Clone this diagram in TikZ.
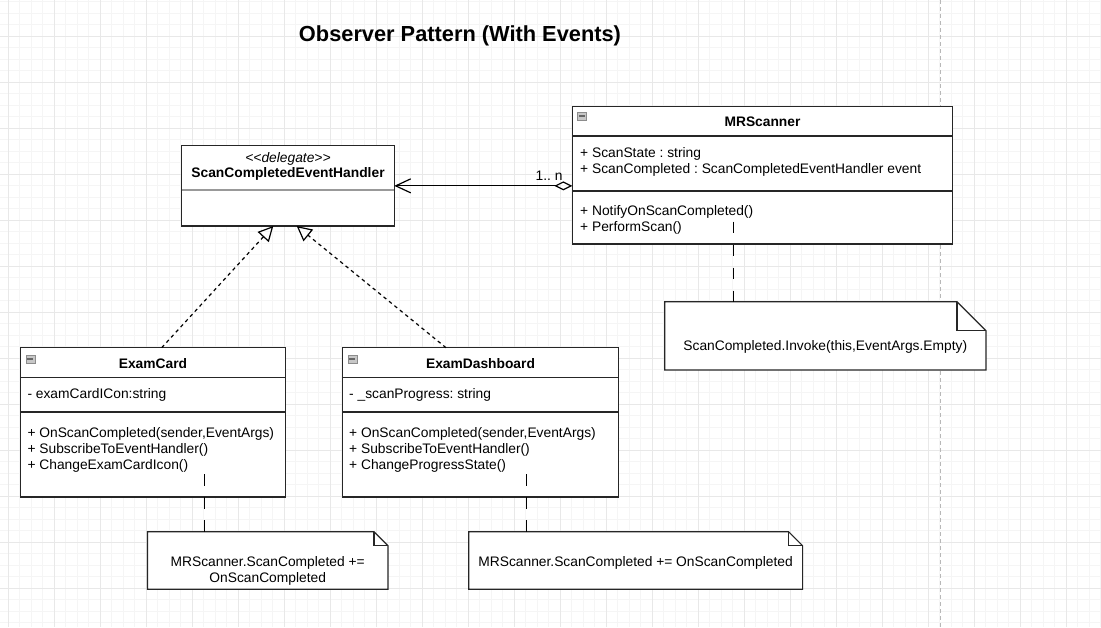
\documentclass[tikz,border=0pt]{standalone}
\usepackage{fontspec}
\setmainfont{Liberation Sans}
\usetikzlibrary{arrows.meta}
\frenchspacing

\newcommand{\drawnote}[2]{%
\draw[noteline] (#1.north west) -- ([xshift=-#2]#1.north east) -- ([yshift=-#2]#1.north east)
  -- (#1.south east) -- (#1.south west) -- cycle;
\draw[noteline, fill=none] ([xshift=-#2]#1.north east) |- ([yshift=-#2]#1.north east);}
\newcommand{\bodysize}{\fontsize{13.8}{16}\selectfont}

\tikzset{
  gridminor/.style={draw=black!4, line width=0.7pt},
  gridmajor/.style={draw=black!9, line width=0.8pt},
  pagebreak/.style={draw=black!28, line width=0.8pt, dash pattern=on 4pt off 3pt},
  classbox/.style={draw=black!85, fill=white, line width=1.2pt, inner sep=0pt, outer sep=0pt, anchor=north west},
  sepline/.style={draw=black!85, line width=1.2pt},
  classname/.style={font=\bodysize\bfseries, anchor=base, inner sep=0pt},
  member/.style={anchor=base west, inner sep=0pt},
  iconbox/.style={draw=black!45, fill=black!22, minimum width=9pt, minimum height=8pt, inner sep=0pt,
    anchor=north west, path picture={\draw[black!60, line width=1.6pt]
    ([xshift=1.5pt]path picture bounding box.west) -- ([xshift=-1.5pt]path picture bounding box.east);}},
  notebox/.style={inner sep=0pt, outer sep=0pt, anchor=north west},
  noteline/.style={draw=black!85, fill=white, line width=1.2pt, line join=miter},
  notetext/.style={anchor=base, inner sep=0pt},
  notelink/.style={draw=black, line width=1.2pt, dash pattern=on 11.5pt off 11.5pt},
  realize/.style={draw=black, line width=1.2pt, dash pattern=on 3.5pt off 3.5pt,
    -{Triangle[open, length=15pt, width=15pt]}},
  assoc/.style={draw=black, line width=1.2pt,
    {Diamond[open, length=18pt, width=9pt]}-{Straight Barb[length=15pt, width=14pt]}},
}

\begin{document}
\begin{tikzpicture}[x=1pt, y=-1pt, font=\bodysize]
\useasboundingbox (0,0) rectangle (1101,627);
\fill[white] (0,0) rectangle (1101,627);

% background grid
\foreach \k in {-1,...,95} \draw[gridminor] ({8.3+11.5*\k},0) -- ({8.3+11.5*\k},627);
\foreach \k in {0,...,54} \draw[gridminor] (0,{1.5+11.5*\k}) -- (1101,{1.5+11.5*\k});
\foreach \k in {0,...,23} \draw[gridmajor] ({8.3+46*\k},0) -- ({8.3+46*\k},627);
\foreach \k in {0,...,12} \draw[gridmajor] (0,{36+46*\k}) -- (1101,{36+46*\k});
\draw[pagebreak] (940.5,0) -- (940.5,627);

\node[font=\bfseries\fontsize{21.8}{26}\selectfont, anchor=base, inner sep=0pt] (title) at (460,41.7)
  {Observer Pattern (With Events)};

% delegate
\node[classbox, minimum width=212.6, minimum height=80.3] (handler) at (181.7,145.7) {};
\draw[sepline, draw=black!40] ([yshift=-44.3pt]handler.north west) -- ([yshift=-44.3pt]handler.north east);
\node[notetext, font=\bodysize\itshape] (stereo) at (288,162)
  {<\kern0pt<\kern0pt delegate>\kern0pt>};
\node[classname] (handlername) at (288,177.5) {ScanCompletedEventHandler};

% subject
\node[classbox, minimum width=380.4, minimum height=137.3] (mr) at (572.3,106.7) {};
\draw[sepline] ([yshift=-29.3pt]mr.north west) -- ([yshift=-29.3pt]mr.north east);
\draw[sepline] ([yshift=-84.3pt]mr.north west) -- ([yshift=-84.3pt]mr.north east);
\node[iconbox] (mricon) at (577.3,111.7) {};
\node[classname] (mrname) at (762.5,126.7) {MRScanner};
\node[member] (mra1) at (580,157.6) {+ ScanState : string};
\node[member] (mra2) at (580,173.6) {+ ScanCompleted : ScanCompletedEventHandler event};
\node[member] (mrm1) at (580,215.8) {+ NotifyOnScanCompleted()};
\node[member] (mrm2) at (580,231.8) {+ PerformScan()};

% observers
\node[classbox, minimum width=264.6, minimum height=149.3] (card) at (20.7,347.7) {};
\draw[sepline] ([yshift=-30pt]card.north west) -- ([yshift=-30pt]card.north east);
\draw[sepline] ([yshift=-64.3pt]card.north west) -- ([yshift=-64.3pt]card.north east);
\node[iconbox] (cardicon) at (25.7,355) {};
\node[classname] (cardname) at (153,368.3) {ExamCard};
\node[member] (carda1) at (27.3,398) {- examCardICon:string};
\node[member] (cardm1) at (27.3,437.3) {+ OnScanCompleted(sender,EventArgs)};
\node[member] (cardm2) at (27.3,453.3) {+ SubscribeToEventHandler()};
\node[member] (cardm3) at (27.3,469.3) {+ ChangeExamCardIcon()};

\node[classbox, minimum width=276.4, minimum height=149.3] (board) at (342.3,347.7) {};
\draw[sepline] ([yshift=-30pt]board.north west) -- ([yshift=-30pt]board.north east);
\draw[sepline] ([yshift=-64.3pt]board.north west) -- ([yshift=-64.3pt]board.north east);
\node[iconbox] (boardicon) at (347.7,355) {};
\node[classname] (boardname) at (480.5,368.3) {ExamDashboard};
\node[member] (boarda1) at (349,398) {- \_scanProgress: string};
\node[member] (boardm1) at (349,437.3) {+ OnScanCompleted(sender,EventArgs)};
\node[member] (boardm2) at (349,453.3) {+ SubscribeToEventHandler()};
\node[member] (boardm3) at (349,469.3) {+ ChangeProgressState()};

% notes
\node[notebox, minimum width=321.3, minimum height=68.3] (mrnote) at (664.7,301.7) {};
\drawnote{mrnote}{29pt}
\node[notetext] (mrnotetext) at (825.3,350.7) {ScanCompleted.Invoke(this,EventArgs.Empty)};

\node[notebox, minimum width=240.6, minimum height=57.6] (cardnote) at (147.4,531.7) {};
\drawnote{cardnote}{14pt}
\node[notetext] (cardnotetext) at (267.7,566) {MRScanner.ScanCompleted +=};
\node[notetext] (cardnotetext2) at (267.7,582) {OnScanCompleted};

\node[notebox, minimum width=333.9, minimum height=57.6] (boardnote) at (468.7,531.7) {};
\drawnote{boardnote}{14pt}
\node[notetext] (boardnotetext) at (635.6,566) {MRScanner.ScanCompleted += OnScanCompleted};

% connectors
\draw[assoc] (mr.west |- handler.east) -- (handler.east);
\node[anchor=base east, inner sep=0pt] (mult) at (562.7,180) {1.. n};

\draw[realize] ([xshift=8.7pt]card.north) -- ([xshift=-14.7pt]handler.south);
\draw[realize] ([xshift=-34.5pt]board.north) -- ([xshift=8.7pt]handler.south);

\coordinate (mrlink) at (733.3,221.7);
\coordinate (cardlink) at (204.3,474);
\coordinate (boardlink) at (526.7,474);
\draw[notelink] (mrlink) -- (mrlink |- mrnote.north);
\draw[notelink] (cardlink) -- (cardlink |- cardnote.north);
\draw[notelink] (boardlink) -- (boardlink |- boardnote.north);
\end{tikzpicture}
\end{document}
